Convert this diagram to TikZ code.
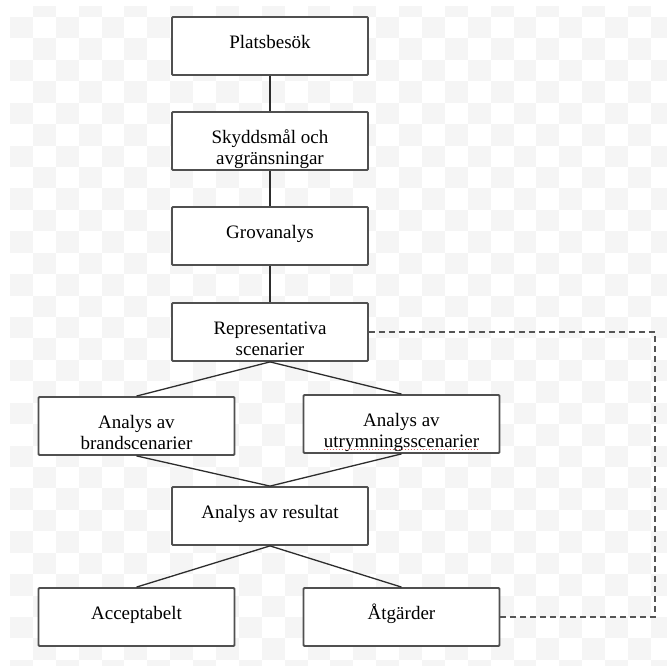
\documentclass[tikz,border=0pt]{standalone}
\usepackage{fontspec}
\setmainfont{Liberation Serif}
\definecolor{checkgray}{RGB}{245,245,245}
\definecolor{boxgray}{RGB}{80,80,80}
\definecolor{linegray}{RGB}{45,45,45}
\definecolor{dashgray}{RGB}{85,85,85}
\definecolor{spellred}{RGB}{230,90,90}
\newcommand\mystrut{\rule{0pt}{18pt}}
\begin{document}
\begin{tikzpicture}[x=1pt,y=-1pt,
  boxstyle/.style={draw=boxgray, line width=1.8pt, fill=white, rounded corners=1pt,
    minimum width=196pt, minimum height=58pt, inner sep=0pt},
  txt/.style={anchor=north, align=center, inner sep=0pt, text=black,
    font=\fontsize{19}{21.5}\selectfont},
  conn/.style={draw=linegray, line width=1.3pt},
  dashline/.style={draw=dashgray, line width=1.3pt, dash pattern=on 6pt off 4pt}]
\useasboundingbox (0,0) rectangle (667,666);
\fill[white] (0,0) rectangle (667,666);
% checkered background
\begin{scope}
\clip (10,7) rectangle (667,666);
\foreach \j in {-1,...,30}{
  \foreach \i in {0,...,28}{
    \pgfmathtruncatemacro\cpar{mod(\i+\j+100,2)}
    \ifnum\cpar=0
      \fill[checkgray] (10+22.89*\i,17+21.43*\j) rectangle ++(22.89,21.43);
    \fi
  }
}
\end{scope}
% boxes
\node[boxstyle] (p1) at (270,46) {};
\node[boxstyle] (p2) at (270,141) {};
\node[boxstyle] (p3) at (270,236) {};
\node[boxstyle] (p4) at (270,332) {};
\node[boxstyle] (p5) at (136.5,426) {};
\node[boxstyle] (p6) at (401.5,424) {};
\node[boxstyle] (p7) at (270,516) {};
\node[boxstyle] (p8) at (136.5,617) {};
\node[boxstyle] (p9) at (401.5,617) {};
% texts
\node[txt] (t1) at ([yshift=-14]p1.north) {\mystrut Platsbesök};
\node[txt] (t2) at ([yshift=-14]p2.north) {\mystrut Skyddsmål och\\avgränsningar};
\node[txt] (t3) at ([yshift=-14]p3.north) {\mystrut Grovanalys};
\node[txt] (t4) at ([yshift=-14]p4.north) {\mystrut Representativa\\scenarier};
\node[txt] (t5) at ([yshift=-14]p5.north) {\mystrut Analys av\\brandscenarier};
\node[txt] (t6) at ([yshift=-14]p6.north) {\mystrut Analys av\\utrymningsscenarier};
\node[txt] (t7) at ([yshift=-14]p7.north) {\mystrut Analys av resultat};
\node[txt] (t8) at ([yshift=-14]p8.north) {\mystrut Acceptabelt};
\node[txt] (t9) at ([yshift=-14]p9.north) {\mystrut Åtgärder};
% spell-check underline
\draw[spellred, line width=1pt, dash pattern=on 1.5pt off 1.5pt]
  ([yshift=3]t6.south west) -- ([yshift=3]t6.south east);
% connectors
\draw[conn] (p1.south) -- (p2.north);
\draw[conn] (p2.south) -- (p3.north);
\draw[conn] (p3.south) -- (p4.north);
\draw[conn] (p4.south) -- (p5.north);
\draw[conn] (p4.south) -- (p6.north);
\draw[conn] (p5.south) -- (p7.north);
\draw[conn] (p6.south) -- (p7.north);
\draw[conn] (p7.south) -- (p8.north);
\draw[conn] (p7.south) -- (p9.north);
\coordinate (dc) at (655,617);
\draw[dashline] (p4.east) -| (dc) -- (p9.east);
\end{tikzpicture}
\end{document}
